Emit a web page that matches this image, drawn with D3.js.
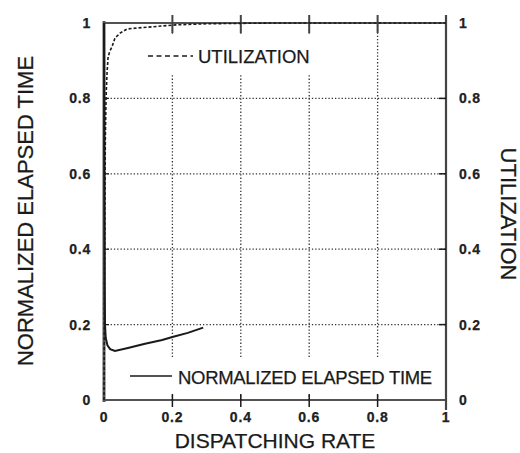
<!DOCTYPE html>
<html>
<head>
<meta charset="utf-8">
<script src="https://cdn.jsdelivr.net/npm/d3@7"></script>
<style>
  body { margin: 0; background: #fff; }
  svg { font-family: "Liberation Sans", Arial, sans-serif; }
  svg text { stroke: #1a1a1a; stroke-width: 0.25px; }
</style>
</head>
<body>
<div id="chart"></div>
<script>
// values
const tickValues = [0, 0.2, 0.4, 0.6, 0.8, 1];
const tickLabels = ["0", "0.2", "0.4", "0.6", "0.8", "1"];

// utilization (dashed)
const utilRate = [0, 0.001, 0.002, 0.003, 0.004, 0.006, 0.009, 0.012, 0.017, 0.023, 0.032, 0.047, 0.067, 0.1, 0.17, 0.21, 0.3, 0.5, 0.75, 1];
const utilValue = [0, 0.2, 0.4, 0.58, 0.7, 0.8, 0.87, 0.91, 0.925, 0.936, 0.96, 0.973, 0.984, 0.987, 0.992, 0.995, 0.998, 1, 1, 1];

// normalized elapsed time (solid)
const timeRate = [0, 0.001, 0.002, 0.003, 0.005, 0.01, 0.018, 0.032, 0.07, 0.12, 0.17, 0.2, 0.245, 0.29];
const timeValue = [1, 0.6, 0.3, 0.2, 0.165, 0.145, 0.135, 0.13, 0.138, 0.149, 0.159, 0.167, 0.178, 0.192];

const width = 520, height = 453;
const margin = { left: 104, right: 74, top: 23, bottom: 53 };

const svg = d3.select("#chart").append("svg")
    .attr("width", width)
    .attr("height", height);

const x = d3.scaleLinear().domain([0, 1]).range([margin.left, width - margin.right]);
const y = d3.scaleLinear().domain([0, 1]).range([height - margin.bottom, margin.top]);

const ink = "#1a1a1a";
const inner = [0.2, 0.4, 0.6, 0.8];

// dotted grid
svg.append("g").selectAll("line.h")
    .data(inner).enter().append("line")
    .attr("x1", x(0)).attr("x2", x(1))
    .attr("y1", d => y(d)).attr("y2", d => y(d))
    .attr("stroke", "#333").attr("stroke-width", 1.3)
    .attr("stroke-dasharray", "1.3,2");
svg.append("g").selectAll("line.v")
    .data(inner).enter().append("line")
    .attr("x1", d => x(d)).attr("x2", d => x(d))
    .attr("y1", y(0)).attr("y2", y(1))
    .attr("stroke", "#333").attr("stroke-width", 1.3)
    .attr("stroke-dasharray", "1.3,2");

// white legend boxes that hide the grid
svg.append("rect").attr("x", x(0) + 2).attr("y", 35)
    .attr("width", x(0.62) - x(0)).attr("height", 40).attr("fill", "#fff");
svg.append("rect").attr("x", x(0) + 2).attr("y", 358)
    .attr("width", x(0.98) - x(0)).attr("height", 37).attr("fill", "#fff");

// frame
svg.append("line").attr("x1", x(0)).attr("x2", x(1)).attr("y1", y(1)).attr("y2", y(1))
    .attr("stroke", ink).attr("stroke-width", 1.5);
svg.append("line").attr("x1", x(0)).attr("x2", x(1)).attr("y1", y(0)).attr("y2", y(0))
    .attr("stroke", ink).attr("stroke-width", 1.5);
svg.append("line").attr("x1", x(0)).attr("x2", x(0)).attr("y1", y(1) - 2).attr("y2", y(0) + 2)
    .attr("stroke", "#555").attr("stroke-width", 3);
svg.append("line").attr("x1", x(1)).attr("x2", x(1)).attr("y1", y(1) - 8).attr("y2", y(0) + 10)
    .attr("stroke", "#444").attr("stroke-width", 2.2);

// tick marks
svg.append("g").selectAll("line")
    .data(inner).enter().append("line")
    .attr("x1", d => x(d)).attr("x2", d => x(d))
    .attr("y1", y(0) - 6).attr("y2", y(0) + 7)
    .attr("stroke", ink).attr("stroke-width", 1.5);
svg.append("g").selectAll("line")
    .data(inner).enter().append("line")
    .attr("x1", d => x(d)).attr("x2", d => x(d))
    .attr("y1", y(1) - 8).attr("y2", y(1) + 10)
    .attr("stroke", "#444").attr("stroke-width", 2);
svg.append("g").selectAll("line")
    .data(inner).enter().append("line")
    .attr("x1", x(1) - 7).attr("x2", x(1))
    .attr("y1", d => y(d)).attr("y2", d => y(d))
    .attr("stroke", ink).attr("stroke-width", 1.5);
svg.append("g").selectAll("line")
    .data(inner).enter().append("line")
    .attr("x1", x(0)).attr("x2", x(0) + 5)
    .attr("y1", d => y(d)).attr("y2", d => y(d))
    .attr("stroke", ink).attr("stroke-width", 1.2);

// tick labels
const tickFont = "14px";
svg.append("g").selectAll("text")
    .data(tickValues).enter().append("text")
    .attr("x", 91).attr("y", d => y(d) + 5)
    .attr("text-anchor", "end")
    .attr("font-size", tickFont).attr("font-weight", "bold")
    .attr("letter-spacing", "0.8px").attr("fill", "#222")
    .text((d, i) => tickLabels[i]);
svg.append("g").selectAll("text")
    .data(tickValues).enter().append("text")
    .attr("x", 459).attr("y", d => y(d) + 5)
    .attr("text-anchor", "start")
    .attr("font-size", tickFont).attr("font-weight", "bold")
    .attr("letter-spacing", "0.8px").attr("fill", "#222")
    .text((d, i) => tickLabels[i]);
svg.append("g").selectAll("text")
    .data(tickValues).enter().append("text")
    .attr("x", d => x(d)).attr("y", 422)
    .attr("text-anchor", "middle")
    .attr("font-size", tickFont).attr("font-weight", "bold")
    .attr("letter-spacing", "0.8px").attr("fill", "#222")
    .text((d, i) => tickLabels[i]);

// curves
const curve = d3.line().x(d => x(d[0])).y(d => y(d[1]));
svg.append("path")
    .datum(d3.zip(utilRate, utilValue))
    .attr("d", curve)
    .attr("fill", "none").attr("stroke", ink).attr("stroke-width", 1.6)
    .attr("stroke-dasharray", "3,2");

svg.append("path")
    .datum(d3.zip(timeRate, timeValue))
    .attr("d", curve)
    .attr("fill", "none").attr("stroke", ink).attr("stroke-width", 2);

// legends
svg.append("line").attr("x1", 148).attr("x2", 193).attr("y1", 56).attr("y2", 56)
    .attr("stroke", ink).attr("stroke-width", 1.5).attr("stroke-dasharray", "5,3.5");
svg.append("text").attr("x", 198).attr("y", 63)
    .attr("font-size", "18.5px").attr("fill", ink).text("UTILIZATION");

svg.append("line").attr("x1", 130).attr("x2", 172).attr("y1", 376).attr("y2", 376)
    .attr("stroke", ink).attr("stroke-width", 1.6);
svg.append("text").attr("x", 178).attr("y", 384)
    .attr("font-size", "18.5px").attr("letter-spacing", "-0.3px").attr("fill", ink)
    .text("NORMALIZED ELAPSED TIME");

// axis titles
svg.append("text")
    .attr("x", (x(0) + x(1)) / 2).attr("y", 448)
    .attr("text-anchor", "middle")
    .attr("font-size", "21px").attr("fill", ink)
    .text("DISPATCHING RATE");
svg.append("text")
    .attr("transform", "translate(33,211) rotate(-90)")
    .attr("text-anchor", "middle")
    .attr("font-size", "22px").attr("fill", ink)
    .text("NORMALIZED ELAPSED TIME");
svg.append("text")
    .attr("transform", "translate(501,214) rotate(90)")
    .attr("text-anchor", "middle")
    .attr("font-size", "22px").attr("fill", ink)
    .text("UTILIZATION");
</script>
</body>
</html>
